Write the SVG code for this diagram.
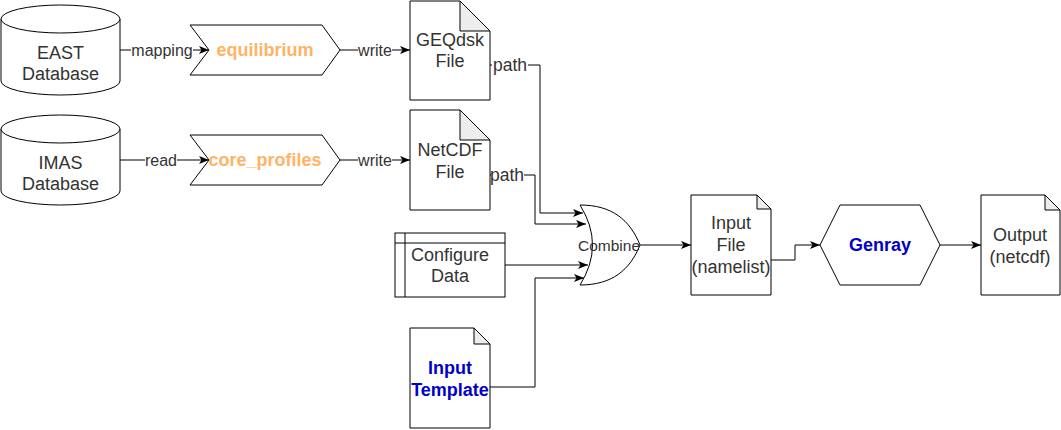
<svg xmlns="http://www.w3.org/2000/svg" width="1061" height="430" viewBox="0 0 1061 430">
<style>
.shape{fill:#fff;stroke:#000;stroke-width:1}
.fold{fill:#ededed;stroke:#000;stroke-width:1}
.t{font-family:"Liberation Sans",Arial,sans-serif;font-size:18px;fill:#333;text-anchor:middle;dominant-baseline:central}
.lbl{font-family:"Liberation Sans",Arial,sans-serif;font-size:16px;fill:#333;text-anchor:middle;dominant-baseline:central}
.plbl{font-family:"Liberation Sans",Arial,sans-serif;font-size:17.5px;fill:#333;text-anchor:middle;dominant-baseline:central}
.orange{font-family:"Liberation Sans",Arial,sans-serif;font-size:18px;font-weight:bold;fill:#FFB366;text-anchor:middle;dominant-baseline:central}
.blue{font-family:"Liberation Sans",Arial,sans-serif;font-size:18px;font-weight:bold;fill:#0000CC;text-anchor:middle;dominant-baseline:central}
.gate{font-family:"Liberation Sans",Arial,sans-serif;font-size:15.5px;fill:#333;text-anchor:middle;dominant-baseline:central}
.edge{fill:none;stroke:#000;stroke-width:1}
.bg{fill:#fff;stroke:none}
</style>
<defs>
<marker id="arr" markerUnits="userSpaceOnUse" markerWidth="12" markerHeight="10" refX="10" refY="4" orient="auto">
<path d="M0,0 L10,4 L0,8 L2.5,4 Z" fill="#000"/>
</marker>
</defs>

<g id="connectors">
<path class="edge" d="M120,50 H209" marker-end="url(#arr)"/>
<path class="edge" d="M120,160 H209" marker-end="url(#arr)"/>
<path class="edge" d="M340,50 H410" marker-end="url(#arr)"/>
<path class="edge" d="M340,160 H410" marker-end="url(#arr)"/>
<path class="edge" d="M490,65 H540 V213 H583" marker-end="url(#arr)"/>
<path class="edge" d="M490,175 H535 V224 H586" marker-end="url(#arr)"/>
<path class="edge" d="M505,265 H588" marker-end="url(#arr)"/>
<path class="edge" d="M490,387 H535 V278 H584" marker-end="url(#arr)"/>
<path class="edge" d="M640,245 H691" marker-end="url(#arr)"/>
<path class="edge" d="M771,260 H795 V245 H820" marker-end="url(#arr)"/>
<path class="edge" d="M940,245 H981" marker-end="url(#arr)"/>
<rect class="bg" x="131" y="41" width="62" height="18"/>
<text class="lbl" x="162" y="50">mapping</text>
<rect class="bg" x="145" y="151" width="32" height="18"/>
<text class="lbl" x="161" y="160">read</text>
<rect class="bg" x="358" y="41" width="34" height="18"/>
<text class="lbl" x="375" y="50">write</text>
<rect class="bg" x="358" y="151" width="34" height="18"/>
<text class="lbl" x="375" y="160">write</text>
<rect class="bg" x="492" y="56" width="36" height="18"/>
<text class="plbl" x="510" y="65">path</text>
<rect class="bg" x="491" y="166" width="33" height="18"/>
<text class="plbl" x="507" y="175">path</text>
</g>

<g id="east">
<path class="shape" d="M1,19 A59.5,14 0 0 1 120,19 V81 A59.5,14 0 0 1 1,81 Z"/>
<path class="shape" d="M1,19 A59.5,14 0 0 0 120,19" fill="none"/>
<text class="t" x="60.5" y="53">EAST</text>
<text class="t" x="60.5" y="74">Database</text>
</g>

<g id="imas">
<path class="shape" d="M1,129 A59.5,14 0 0 1 120,129 V191 A59.5,14 0 0 1 1,191 Z"/>
<path class="shape" d="M1,129 A59.5,14 0 0 0 120,129" fill="none"/>
<text class="t" x="60.5" y="163">IMAS</text>
<text class="t" x="60.5" y="184">Database</text>
</g>

<g id="equilibrium">
<path class="shape" d="M190,25 H322 L340,50 L322,75 H190 L209,50 Z"/>
<text class="orange" x="265" y="50">equilibrium</text>
</g>

<g id="core_profiles">
<path class="shape" d="M190,135 H322 L340,160 L322,185 H190 L209,160 Z"/>
<text class="orange" x="265" y="160">core_profiles</text>
</g>

<g id="geqdsk">
<path class="shape" d="M410,1 H460 L490,31 V100 H410 Z"/>
<path class="fold" d="M460,1 V31 H490 Z"/>
<text class="t" x="450" y="40">GEQdsk</text>
<text class="t" x="450" y="61">File</text>
</g>

<g id="netcdf">
<path class="shape" d="M410,110 H460 L490,140 V210 H410 Z"/>
<path class="fold" d="M460,110 V140 H490 Z"/>
<text class="t" x="450" y="150">NetCDF</text>
<text class="t" x="450" y="172">File</text>
</g>

<g id="configure">
<rect class="shape" x="395" y="233" width="110" height="64"/>
<path class="edge" d="M405,233 V297 M395,243 H505"/>
<text class="t" x="450" y="255">Configure</text>
<text class="t" x="450" y="276">Data</text>
</g>

<g id="template">
<path class="shape" d="M410,328 H474 L490,344 V428 H410 Z"/>
<path class="fold" d="M474,328 V344 H490 Z"/>
<text class="blue" x="450" y="368">Input</text>
<text class="blue" x="450" y="390">Template</text>
</g>

<g id="combine">
<path class="shape" d="M580,205 C612,205 630,220 640,245 C630,270 612,285 580,285 Q605,245 580,205 Z"/>
<text class="gate" x="609" y="245">Combine</text>
</g>

<g id="inputfile">
<path class="shape" d="M691,195 H757 L771,209 V295 H691 Z"/>
<path class="fold" d="M757,195 V209 H771 Z"/>
<text class="t" x="731" y="223">Input</text>
<text class="t" x="731" y="245">File</text>
<text class="t" x="731" y="267">(namelist)</text>
</g>

<g id="genray">
<path class="shape" d="M840,205 H920 L940,245 L920,285 H840 L820,245 Z"/>
<text class="blue" x="880" y="245">Genray</text>
</g>

<g id="output">
<path class="shape" d="M981,195 H1045 L1060,210 V295 H981 Z"/>
<path class="fold" d="M1045,195 V210 H1060 Z"/>
<text class="t" x="1020" y="235">Output</text>
<text class="t" x="1020" y="257">(netcdf)</text>
</g>
</svg>
